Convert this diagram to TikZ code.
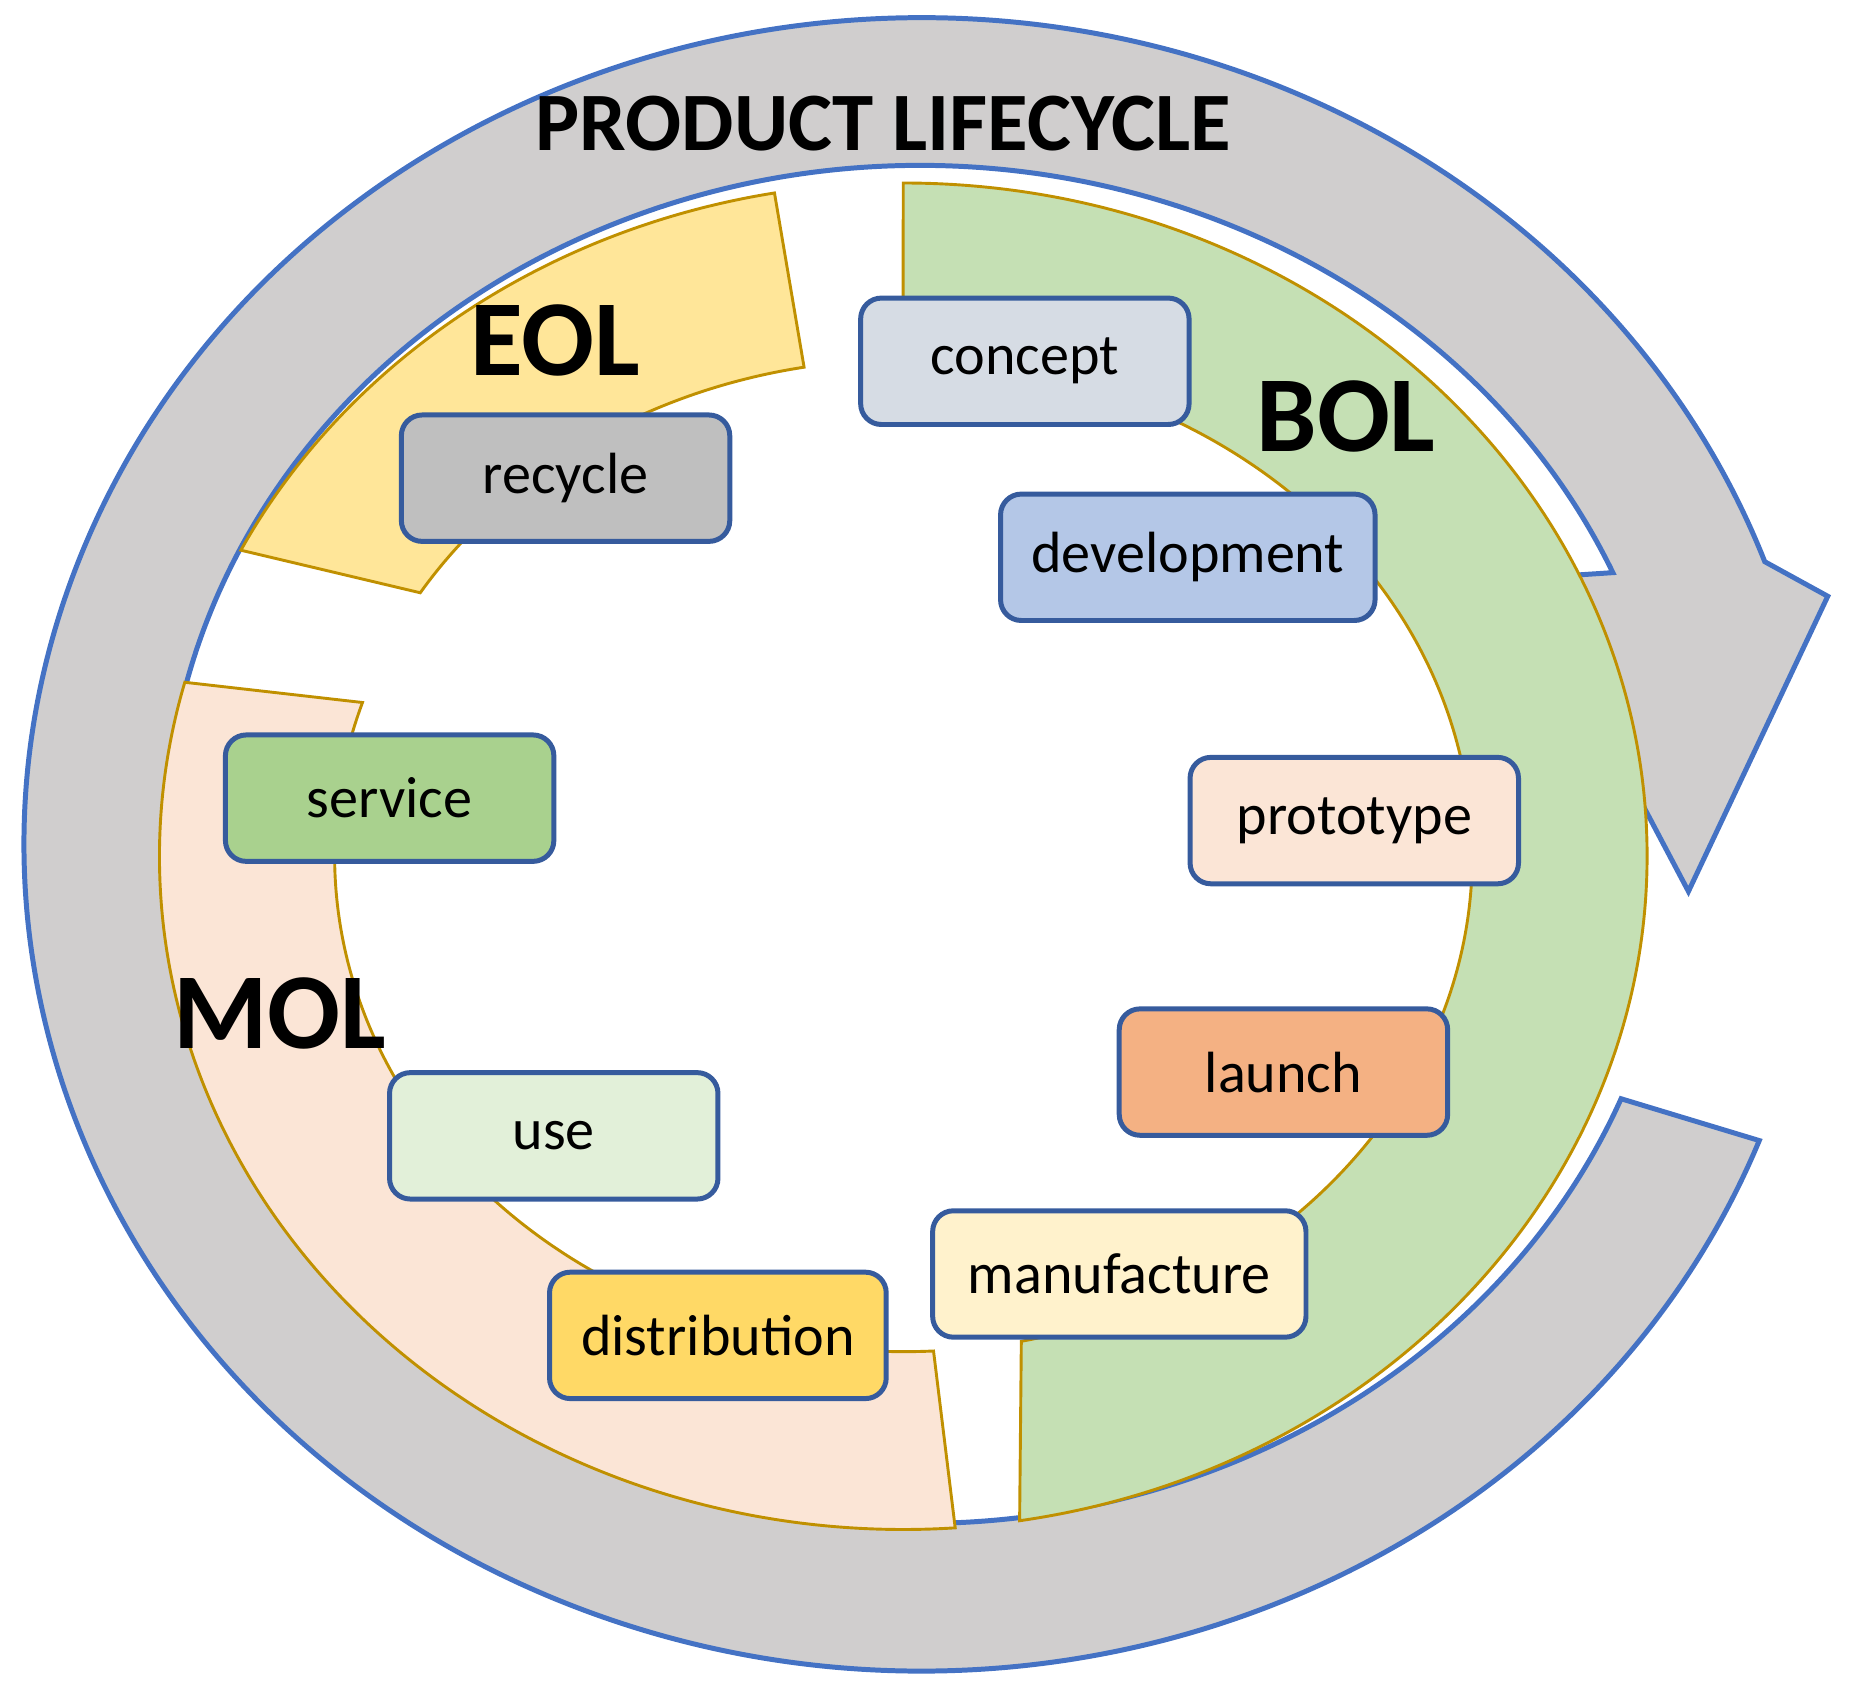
\documentclass[tikz,border=0pt]{standalone}
\usepackage{fontspec}
\setmainfont{Carlito}
\definecolor{ringfill}{HTML}{D0CECE}
\definecolor{blueline}{HTML}{4472C4}
\definecolor{goldline}{HTML}{C09000}
\definecolor{bolc}{HTML}{C5E0B4}
\definecolor{molc}{HTML}{FBE5D6}
\definecolor{eolc}{HTML}{FFE699}
\definecolor{cconcept}{HTML}{D6DCE4}
\definecolor{cdev}{HTML}{B4C7E7}
\definecolor{cproto}{HTML}{FBE5D6}
\definecolor{claunch}{HTML}{F4B183}
\definecolor{cmanu}{HTML}{FFF2CC}
\definecolor{cdist}{HTML}{FFD966}
\definecolor{cuse}{HTML}{E2F0D9}
\definecolor{cserv}{HTML}{A9D18E}
\definecolor{crec}{HTML}{BFBFBF}
\tikzset{
  ring/.style={fill=ringfill,draw=blueline,line width=1.2pt,line join=miter},
  band/.style={draw=goldline,line width=0.7pt},
  stage/.style={draw=blueline!80!black,line width=1.2pt,rounded corners=5pt,minimum width=2.78cm,minimum height=1.07cm,font=\fontsize{14}{16}\selectfont,inner sep=0pt},
  phase/.style={font=\fontsize{26}{30}\selectfont\bfseries},
}
\begin{document}
\begin{tikzpicture}[x=0.01cm,y=0.01cm]
\useasboundingbox (0,0) rectangle (1566,-1431);
% big grey arrow ring
\draw[ring] (1490,-966) arc[start angle=-21,end angle=-340,x radius=760,y radius=700]
  -- (1548,-505) -- (1430,-755) -- (1290,-490) -- (1366,-485)
  arc[start angle=23.6,end angle=338,x radius=640,y radius=575] -- cycle;
% phase bands
\draw[band,fill=bolc] (765,-155) arc[start angle=90,end angle=-81,x radius=630,y radius=570]
  -- (865,-1136) arc[start angle=-78,end angle=90,x radius=482,y radius=420] -- cycle;
\draw[band,fill=molc] (809,-1294) arc[start angle=-86,end angle=-195,x radius=630,y radius=570]
  -- (307,-595) arc[start angle=162,end angle=273,x radius=482,y radius=420] -- cycle;
\draw[band,fill=eolc] (204,-466) arc[start angle=153,end angle=100,x radius=630,y radius=570]
  -- (681,-311) arc[start angle=100,end angle=148,x radius=482,y radius=420] -- cycle;
% labels
\node[font=\fontsize{20}{24}\selectfont\bfseries] (title) at (748,-105) {PRODUCT LIFECYCLE};
\node[phase] (eol) at (470,-288) {EOL};
\node[phase] (bol) at (1140,-353) {BOL};
\node[phase] (mol) at (237,-858) {MOL};
% stages
\node[stage,fill=cconcept] (concept) at (868,-306) {concept};
\node[stage,fill=cdev,minimum width=3.17cm] (development) at (1006,-472) {development};
\node[stage,fill=cproto] (prototype) at (1147,-695) {prototype};
\node[stage,fill=claunch] (launch) at (1087,-908) {launch};
\node[stage,fill=cmanu,minimum width=3.16cm] (manufacture) at (948,-1079) {manufacture};
\node[stage,fill=cdist,minimum width=2.85cm] (distribution) at (608,-1131) {distribution};
\node[stage,fill=cuse] (use) at (469,-962) {use};
\node[stage,fill=cserv] (service) at (330,-676) {service};
\node[stage,fill=crec] (recycle) at (479,-405) {recycle};
\end{tikzpicture}
\end{document}
